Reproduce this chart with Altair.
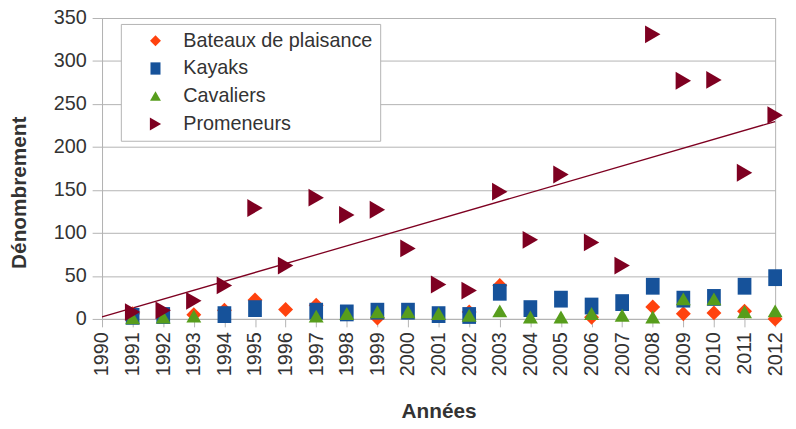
import altair as alt
import pandas as pd

years = list(range(1991, 2013))
series_names = ["Bateaux de plaisance", "Kayaks", "Cavaliers", "Promeneurs"]
bateaux = [6, None, 5, 10, 22, 11, 16, None, 1, None, None, 8, 39, None, None, 2, None, 14, 6, 7, 9, 0]
kayaks = [3, 4, None, 5, 12, None, 9, 7, 9, 9, 5, 4, 31, 12, 23, 15, 19, 38, 23, 25, 38, 48]
cavaliers = [1, 2, 3, None, None, None, 3, 6, 8, 8, 6, 4, 9, 2, 2, 6, 4, 2, 23, 23, 8, 9]
promeneurs = [8, 10, 21, 39, 129, 62, 141, 121, 127, 82, 40, 33, 148, 92, 168, 89, 62, 331, 277, 278, 170, 237]
colors = ["#ff420e", "#16529a", "#579d1c", "#7e0021"]
shapes = [
    "M-0.87,0L0,-0.87L0.87,0L0,0.87Z",
    "M-0.8,-0.98L0.8,-0.98L0.8,0.98L-0.8,0.98Z",
    "M0,-0.78L0.87,0.72L-0.87,0.72Z",
    "M-0.9,-1.04L0.9,0L-0.9,1.04Z",
]

rows = []
for name, vals in zip(series_names, [bateaux, kayaks, cavaliers, promeneurs]):
    for y, v in zip(years, vals):
        if v is not None:
            rows.append({"annee": y, "valeur": v, "serie": name})
df = pd.DataFrame(rows)

FONT = "Liberation Sans"

x_enc = alt.X("annee:Q", title="Années",
              scale=alt.Scale(domain=[1990, 2012], nice=False, zero=False),
              axis=alt.Axis(values=list(range(1990, 2013)), format="d", labelAngle=270,
                            labelOverlap=False, grid=False, tickSize=8, labelPadding=5,
                            titleY=100, titleBaseline="alphabetic"))
y_enc = alt.Y("valeur:Q", title="Dénombrement",
              scale=alt.Scale(domain=[0, 350], nice=False),
              axis=alt.Axis(values=list(range(0, 351, 50)), grid=True, tickSize=10,
                            labelOverlap=False, labelPadding=6, titleX=-77, titleY=176,
                            titleBaseline="alphabetic"))

trend = alt.Chart(df).transform_filter(
    alt.datum.serie == "Promeneurs"
).transform_regression("annee", "valeur", extent=[1990, 2012]).mark_line(
    color="#7e0021", strokeWidth=1.3
).encode(x=x_enc, y=y_enc)

points = alt.Chart(df).mark_point(filled=True, size=300, opacity=1, strokeWidth=0).encode(
    x=x_enc,
    y=y_enc,
    color=alt.Color("serie:N", scale=alt.Scale(domain=series_names, range=colors), legend=alt.Legend(title=None)),
    shape=alt.Shape("serie:N", scale=alt.Scale(domain=series_names, range=shapes), legend=alt.Legend(title=None)),
)

chart = alt.layer(trend, points).properties(
    width=680, height=304,
    autosize=alt.AutoSizeParams(type="none"),
    padding={"left": 95, "top": 8, "right": 13, "bottom": 101},
).configure_view(stroke="#b3b3b3", strokeWidth=1).configure_axis(
    labelFont=FONT, titleFont=FONT, labelFontSize=20, titleFontSize=21,
    labelColor="#333333", titleColor="#333333", titleFontWeight="bold",
    domainColor="#b3b3b3", tickColor="#b3b3b3", gridColor="#b3b3b3",
).configure_legend(
    orient="none", legendX=19, legendY=6, strokeColor="#b3b3b3", fillColor="white",
    padding=7, labelFont=FONT, labelFontSize=20, labelColor="#333333", labelLimit=400,
    symbolSize=160, symbolStrokeWidth=0, symbolOffset=18, labelOffset=18, rowPadding=8,
)

chart.save("out.html", embed_options={"renderer": "svg", "actions": False})
